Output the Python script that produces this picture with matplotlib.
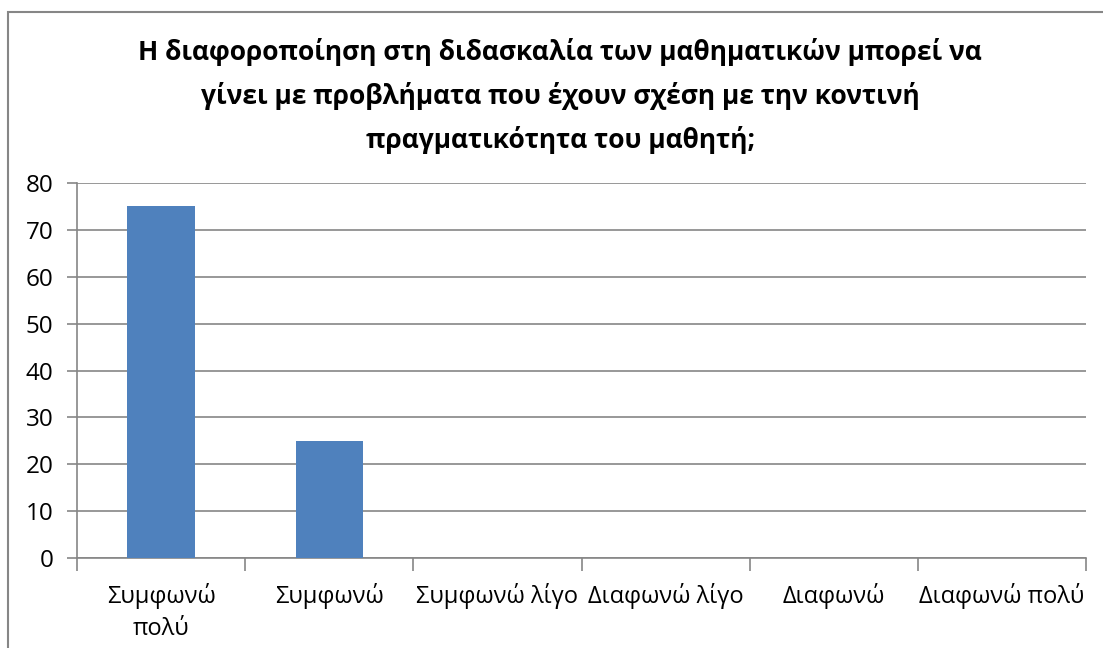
import matplotlib
matplotlib.use("Agg")
import matplotlib.pyplot as plt
from matplotlib.patches import Rectangle

plt.rcParams["font.family"] = ["Open Sans", "DejaVu Sans"]

# Απαντήσεις και ποσοστά
categories = ["Συμφωνώ\nπολύ", "Συμφωνώ", "Συμφωνώ λίγο", "Διαφωνώ λίγο", "Διαφωνώ", "Διαφωνώ πολύ"]
values = [75, 25, 0, 0, 0, 0]
yticks = [0, 10, 20, 30, 40, 50, 60, 70, 80]

title = ("Η διαφοροποίηση στη διδασκαλία των μαθηματικών μπορεί να\n"
         "γίνει με προβλήματα που έχουν σχέση με την κοντινή\n"
         "πραγματικότητα του μαθητή;")

W, H = 1103, 648
fig = plt.figure(figsize=(W / 100, H / 100), dpi=100)

# πλαίσιο γραφήματος
fig.patches.append(Rectangle((8 / W, -0.1), 1.2, (H - 12) / H + 0.1, transform=fig.transFigure,
                             fill=False, edgecolor="#868686", linewidth=1.5))

ax = fig.add_axes([77 / W, (H - 558) / H, (1086 - 77) / W, (558 - 183) / H])
x = list(range(len(categories)))
ax.bar(x, values, width=0.4, color="#4F81BD", zorder=3)

ax.set_xlim(-0.5, len(categories) - 0.5)
ax.set_ylim(0, 80)
ax.set_yticks(yticks)
ax.yaxis.grid(True, color="#868686", linewidth=1.2)
ax.set_axisbelow(True)

for s in ["top", "right"]:
    ax.spines[s].set_visible(False)
for s in ["left", "bottom"]:
    ax.spines[s].set_color("#868686")
    ax.spines[s].set_linewidth(1.2)

ax.tick_params(axis="y", length=7, width=1.2, color="#868686", labelsize=17.5, pad=10)
ax.set_xticks([i + 0.5 for i in range(-1, len(categories))])
ax.set_xticks(x, minor=True)
ax.set_xticklabels([])
ax.set_xticklabels(categories, minor=True, linespacing=1.45)
ax.tick_params(axis="x", which="major", length=9, width=1.2, color="#868686")
ax.tick_params(axis="x", which="minor", length=0, labelsize=17, pad=18)

fig.text(0.508, (H - 96) / H, title, ha="center", va="center", fontsize=19,
         fontweight="bold", linespacing=1.75)

fig.savefig("out.png", dpi=100)
